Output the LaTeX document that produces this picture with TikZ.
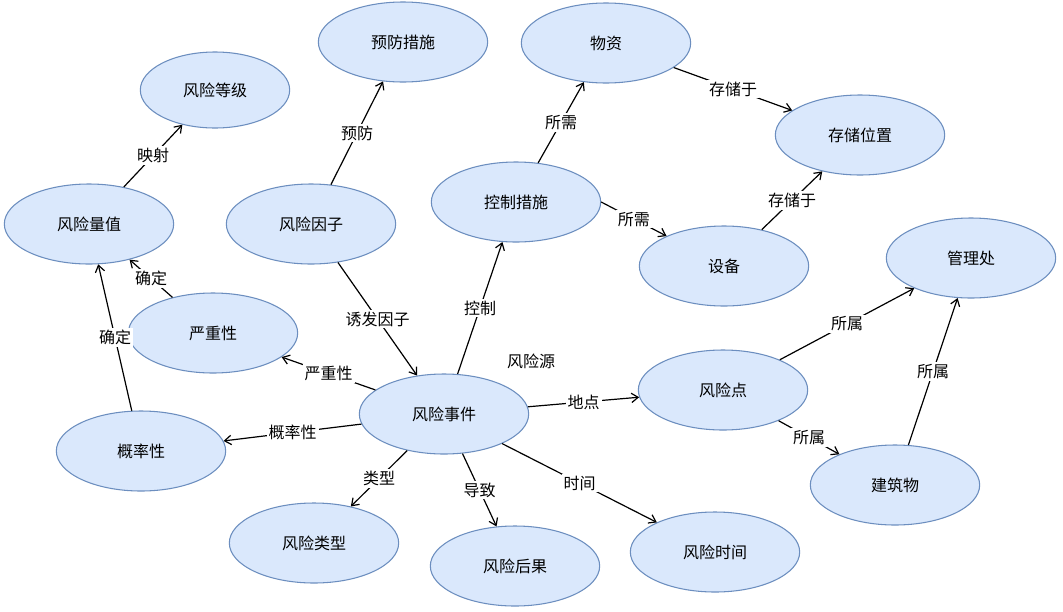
\documentclass[tikz,border=0pt]{standalone}
\usepackage{fontspec}
\setmainfont{Noto Sans CJK SC}
\usetikzlibrary{shapes.geometric,arrows.meta}
\definecolor{fillb}{HTML}{DAE8FC}
\definecolor{drawb}{HTML}{6C8EBF}
\tikzset{
 ent/.style={ellipse,draw=drawb,fill=fillb,line width=0.8pt,minimum width=127pt,minimum height=60pt,inner sep=0pt,font=\fontsize{12}{14}\selectfont},
 rel/.style={-{Straight Barb[length=5pt,width=7pt]},line width=0.9pt},
 lab/.style={fill=white,inner sep=1.5pt,font=\fontsize{12}{14}\selectfont}
}
\begin{document}
\begin{tikzpicture}[x=0.75pt,y=-0.75pt]
\useasboundingbox[fill=white] (0,0) rectangle (1063,611);
\node[ent,minimum width=112pt,minimum height=57pt] (dj) at (215,90) {风险等级};
\node[ent] (yf) at (403,42) {预防措施};
\node[ent] (wz) at (606,43) {物资};
\node[ent] (cc) at (860,135) {存储位置};
\node[ent] (lz) at (89,224) {风险量值};
\node[ent] (yz) at (311,224) {风险因子};
\node[ent] (kz) at (516,202) {控制措施};
\node[ent] (sb) at (724,266) {设备};
\node[ent] (gl) at (971,258) {管理处};
\node[ent] (yz2) at (213,333) {严重性};
\node[ent] (sj) at (444,414) {风险事件};
\node[ent] (fd) at (723,390) {风险点};
\node[ent] (gl2) at (141,451) {概率性};
\node[ent] (jz) at (895,485) {建筑物};
\node[ent] (lx) at (314,543) {风险类型};
\node[ent] (hg) at (515,566) {风险后果};
\node[ent] (sj2) at (715,552) {风险时间};
\node[font=\fontsize{12}{14}\selectfont] (fyy) at (531,361) {风险源};
\draw[rel] (lz) -- node[lab]{映射} (dj);
\draw[rel] (yz) -- node[lab]{预防} (yf);
\draw[rel] (yz) -- node[lab]{诱发因子} (sj);
\draw[rel] (sj) -- node[lab]{控制} (kz);
\draw[rel] (kz) -- node[lab]{所需} (wz);
\draw[rel] (kz.east) -- node[lab]{所需} (sb);
\draw[rel] (wz) -- node[lab]{存储于} (cc);
\draw[rel] (sb) -- node[lab]{存储于} (cc);
\draw[rel] (sj) -- node[lab]{严重性} (yz2);
\draw[rel] (yz2) -- node[lab]{确定} (lz);
\draw[rel] (gl2) -- node[lab]{确定} (lz);
\draw[rel] (sj) -- node[lab]{概率性} (gl2);
\draw[rel] (sj) -- node[lab]{地点} (fd);
\draw[rel] (sj) -- node[lab]{时间} (sj2);
\draw[rel] (sj) -- node[lab]{类型} (lx);
\draw[rel] (sj) -- node[lab]{导致} (hg);
\draw[rel] (fd) -- node[lab]{所属} (gl);
\draw[rel] (fd) -- node[lab]{所属} (jz);
\draw[rel] (jz) -- node[lab]{所属} (gl);
\end{tikzpicture}
\end{document}
